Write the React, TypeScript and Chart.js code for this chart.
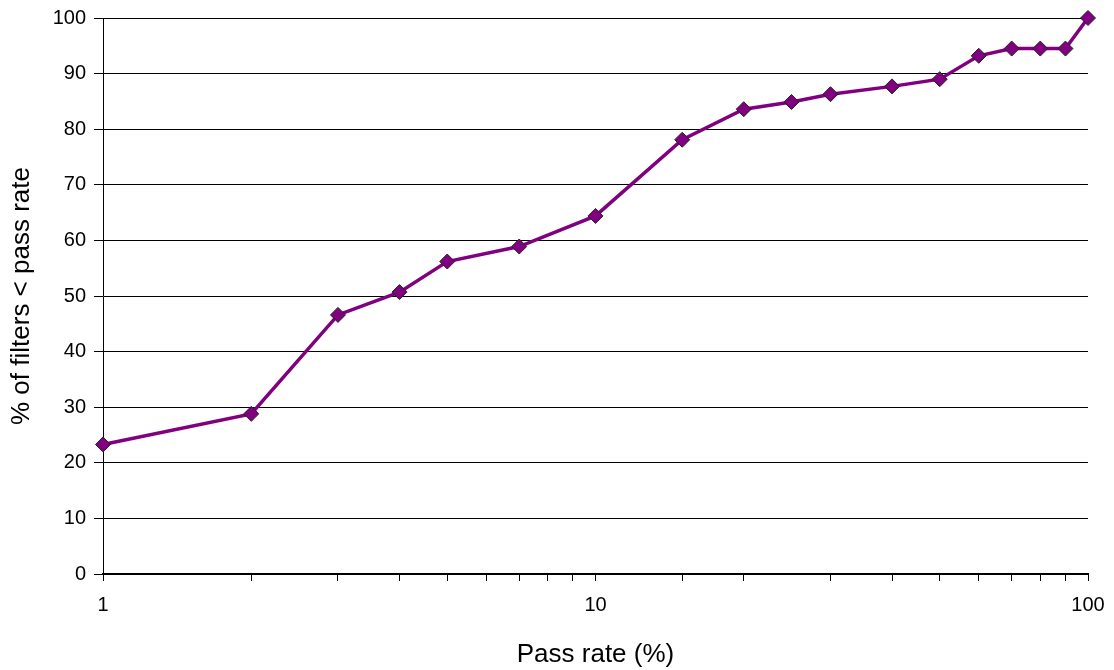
import React, { useEffect, useRef } from "react";
import { Chart, registerables } from "chart.js";

Chart.register(...registerables);

const passRates = [1, 2, 3, 4, 5, 7, 10, 15, 20, 25, 30, 40, 50, 60, 70, 80, 90, 100];
const percentBelow = [23.3, 28.8, 46.6, 50.7, 56.2, 58.9, 64.4, 78.1, 83.6, 84.9, 86.3, 87.7, 89.0, 93.2, 94.5, 94.5, 94.5, 100];
const xLabelTicks = [1, 10, 100];
const xTitle = "Pass rate (%)";
const yTitle = "% of filters < pass rate";

export default function App() {
  const ref = useRef<HTMLCanvasElement | null>(null);
  useEffect(() => {
    document.body.style.margin = "0";
    const ctx = ref.current!;
    const font = "'Liberation Sans', Arial, sans-serif";
    const chart = new Chart(ctx, {
      type: "line",
      data: {
        datasets: [
          {
            data: passRates.map((x, i) => ({ x, y: percentBelow[i] })),
            borderColor: "#800080",
            backgroundColor: "#800080",
            borderWidth: 3.5,
            pointStyle: "rectRot",
            pointRadius: 7.5,
            pointBorderColor: "#222",
            pointBorderWidth: 1,
            pointBackgroundColor: "#800080",
            tension: 0,
            clip: false,
          } as any,
        ],
      },
      options: {
        animation: false,
        responsive: false,
        maintainAspectRatio: false,
        layout: { padding: { left: 0, right: 26, top: 18, bottom: 0 } },
        plugins: { legend: { display: false }, tooltip: { enabled: false } },
        scales: {
          x: {
            type: "logarithmic",
            min: 1,
            max: 100,
            afterFit: (s: any) => {
              s.height = 96;
              s.paddingLeft = 0;
              s.paddingRight = 0;
              s.paddingTop = 0;
              s.paddingBottom = 0;
            },
            grid: {
              drawOnChartArea: false,
              drawTicks: true,
              tickLength: 7,
              tickColor: "#000",
            },
            border: { color: "#000", width: 2 },
            ticks: {
              autoSkip: false,
              maxRotation: 0,
              color: "#000",
              font: { family: font, size: 20 },
              padding: 12,
              callback: (v: any) => (xLabelTicks.includes(Number(v)) ? String(v) : ""),
            },
            title: {
              display: true,
              text: xTitle,
              color: "#000",
              font: { family: font, size: 26 },
              padding: { top: 8, bottom: 0 },
            },
          },
          y: {
            min: 0,
            max: 100,
            afterFit: (s: any) => {
              s.width = 103;
              s.paddingLeft = 0;
              s.paddingRight = 0;
              s.paddingTop = 0;
              s.paddingBottom = 0;
            },
            grid: {
              color: "#000",
              lineWidth: 1,
              tickLength: 9,
              tickColor: "#000",
            },
            border: { color: "#000", width: 1 },
            ticks: {
              stepSize: 10,
              color: "#000",
              font: { family: font, size: 20 },
              padding: 8,
            },
            title: {
              display: true,
              text: yTitle,
              color: "#000",
              font: { family: font, size: 26 },
              padding: { top: 6, bottom: 6 },
            },
          },
        },
      },
    });
    return () => chart.destroy();
  }, []);
  return <canvas ref={ref} width={1114} height={670} style={{ display: "block" }} />;
}
